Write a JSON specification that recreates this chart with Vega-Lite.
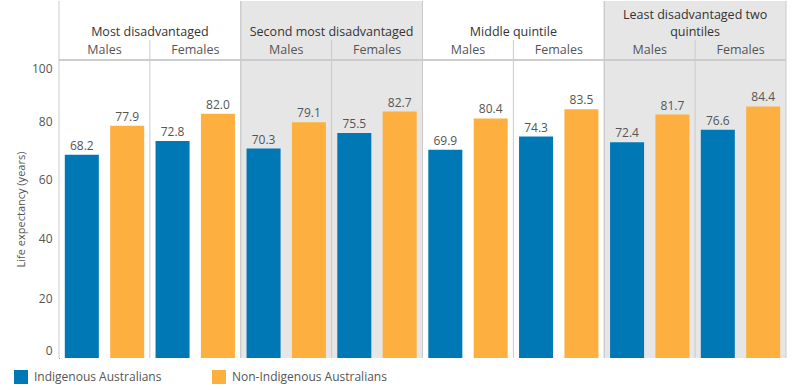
{
  "$schema": "https://vega.github.io/schema/vega-lite/v6.json",
  "padding": {"left": 14, "top": 0, "right": 13, "bottom": 0},
  "config": {"font": "Open Sans", "view": {"stroke": null}},
  "datasets": {
    "life": [
      {"quintile": "Most disadvantaged", "sex": "Males", "group": "Indigenous Australians", "value": 68.2},
      {"quintile": "Most disadvantaged", "sex": "Males", "group": "Non-Indigenous Australians", "value": 77.9},
      {"quintile": "Most disadvantaged", "sex": "Females", "group": "Indigenous Australians", "value": 72.8},
      {"quintile": "Most disadvantaged", "sex": "Females", "group": "Non-Indigenous Australians", "value": 82.0},
      {"quintile": "Second most disadvantaged", "sex": "Males", "group": "Indigenous Australians", "value": 70.3},
      {"quintile": "Second most disadvantaged", "sex": "Males", "group": "Non-Indigenous Australians", "value": 79.1},
      {"quintile": "Second most disadvantaged", "sex": "Females", "group": "Indigenous Australians", "value": 75.5},
      {"quintile": "Second most disadvantaged", "sex": "Females", "group": "Non-Indigenous Australians", "value": 82.7},
      {"quintile": "Middle quintile", "sex": "Males", "group": "Indigenous Australians", "value": 69.9},
      {"quintile": "Middle quintile", "sex": "Males", "group": "Non-Indigenous Australians", "value": 80.4},
      {"quintile": "Middle quintile", "sex": "Females", "group": "Indigenous Australians", "value": 74.3},
      {"quintile": "Middle quintile", "sex": "Females", "group": "Non-Indigenous Australians", "value": 83.5},
      {"quintile": "Least disadvantaged two\nquintiles", "sex": "Males", "group": "Indigenous Australians", "value": 72.4},
      {"quintile": "Least disadvantaged two\nquintiles", "sex": "Males", "group": "Non-Indigenous Australians", "value": 81.7},
      {"quintile": "Least disadvantaged two\nquintiles", "sex": "Females", "group": "Indigenous Australians", "value": 76.6},
      {"quintile": "Least disadvantaged two\nquintiles", "sex": "Females", "group": "Non-Indigenous Australians", "value": 84.4}
    ],
    "cells": [
      {"quintile": "Most disadvantaged", "sex": "Males"},
      {"quintile": "Most disadvantaged", "sex": "Females"},
      {"quintile": "Second most disadvantaged", "sex": "Males"},
      {"quintile": "Second most disadvantaged", "sex": "Females"},
      {"quintile": "Middle quintile", "sex": "Males"},
      {"quintile": "Middle quintile", "sex": "Females"},
      {"quintile": "Least disadvantaged two\nquintiles", "sex": "Males"},
      {"quintile": "Least disadvantaged two\nquintiles", "sex": "Females"}
    ],
    "quintiles": [
      {"quintile": "Most disadvantaged"},
      {"quintile": "Second most disadvantaged"},
      {"quintile": "Middle quintile"},
      {"quintile": "Least disadvantaged two\nquintiles"}
    ]
  },
  "spacing": 0,
  "bounds": "flush",
  "resolve": {"scale": {"x": "shared", "xOffset": "independent", "y": "independent"}},
  "vconcat": [
    {
      "width": 727,
      "height": 39,
      "data": {"name": "quintiles"},
      "transform": [{"calculate": "split(datum.quintile, '\\n')", "as": "lines"}, {"calculate": "peek(datum.lines)", "as": "lastLine"}, {"calculate": "datum.lines[0]", "as": "firstLine"}],
      "layer": [
        {
          "mark": {"type": "rect"},
          "encoding": {
            "x": {"field": "quintile", "type": "nominal", "sort": null, "scale": {"paddingInner": 0, "paddingOuter": 0}, "axis": null},
            "color": {"condition": {"test": "datum.quintile == 'Most disadvantaged' || datum.quintile == 'Middle quintile'", "value": "#ffffff"}, "value": "#e6e6e6"}
          }
        },
        {
          "mark": {"type": "rule", "color": "#cacaca", "strokeWidth": 1},
          "encoding": {"x": {"field": "quintile", "type": "nominal", "sort": null, "bandPosition": 0, "axis": null}}
        },
        {
          "mark": {"type": "rule", "color": "#cacaca", "strokeWidth": 1},
          "encoding": {"x": {"field": "quintile", "type": "nominal", "sort": null, "bandPosition": 1, "axis": null}}
        },
        {
          "mark": {"type": "text", "baseline": "middle", "dy": 11, "fontSize": 12.5, "color": "#333333"},
          "encoding": {
            "x": {"field": "quintile", "type": "nominal", "sort": null, "axis": null},
            "text": {"field": "lastLine"}
          }
        },
        {
          "transform": [{"filter": "length(datum.lines) > 1"}],
          "mark": {"type": "text", "baseline": "middle", "dy": -6, "fontSize": 12.5, "color": "#333333"},
          "encoding": {
            "x": {"field": "quintile", "type": "nominal", "sort": null, "axis": null},
            "text": {"field": "firstLine"}
          }
        }
      ]
    },
    {
      "width": 727,
      "height": 20,
      "layer": [
        {
          "data": {"name": "quintiles"},
          "mark": {"type": "rect"},
          "encoding": {
            "x": {"field": "quintile", "type": "nominal", "sort": null, "axis": null},
            "color": {"condition": {"test": "datum.quintile == 'Most disadvantaged' || datum.quintile == 'Middle quintile'", "value": "#ffffff"}, "value": "#e6e6e6"}
          }
        },
        {
          "data": {"name": "quintiles"},
          "mark": {"type": "rule", "color": "#cacaca", "strokeWidth": 1},
          "encoding": {"x": {"field": "quintile", "type": "nominal", "sort": null, "bandPosition": 0, "axis": null}}
        },
        {
          "data": {"name": "quintiles"},
          "mark": {"type": "rule", "color": "#cacaca", "strokeWidth": 1},
          "encoding": {"x": {"field": "quintile", "type": "nominal", "sort": null, "bandPosition": 1, "axis": null}}
        },
        {
          "data": {"name": "quintiles"},
          "mark": {"type": "rule", "color": "#cacaca", "strokeWidth": 1},
          "encoding": {"x": {"field": "quintile", "type": "nominal", "sort": null, "bandPosition": 0.5, "axis": null}}
        },
        {
          "data": {"name": "cells"},
          "transform": [{"filter": "datum.sex == 'Males'"}],
          "mark": {"type": "text", "baseline": "middle", "fontSize": 12.5, "color": "#555555"},
          "encoding": {
            "x": {"field": "quintile", "type": "nominal", "sort": null, "bandPosition": 0.25, "axis": null},
            "text": {"field": "sex"}
          }
        },
        {
          "data": {"name": "cells"},
          "transform": [{"filter": "datum.sex == 'Females'"}],
          "mark": {"type": "text", "baseline": "middle", "fontSize": 12.5, "color": "#555555"},
          "encoding": {
            "x": {"field": "quintile", "type": "nominal", "sort": null, "bandPosition": 0.75, "axis": null},
            "text": {"field": "sex"}
          }
        }
      ]
    },
    {
      "width": 727,
      "height": 298,
      "layer": [
        {
          "data": {"name": "quintiles"},
          "mark": {"type": "rect"},
          "encoding": {
            "x": {"field": "quintile", "type": "nominal", "sort": null, "axis": null},
            "color": {"condition": {"test": "datum.quintile == 'Most disadvantaged' || datum.quintile == 'Middle quintile'", "value": "#ffffff"}, "value": "#e6e6e6"}
          }
        },
        {
          "data": {"name": "quintiles"},
          "mark": {"type": "rule", "color": "#cacaca", "strokeWidth": 1},
          "encoding": {"x": {"field": "quintile", "type": "nominal", "sort": null, "bandPosition": 0, "axis": null}}
        },
        {
          "data": {"name": "quintiles"},
          "mark": {"type": "rule", "color": "#cacaca", "strokeWidth": 1},
          "encoding": {"x": {"field": "quintile", "type": "nominal", "sort": null, "bandPosition": 1, "axis": null}}
        },
        {
          "data": {"name": "quintiles"},
          "mark": {"type": "rule", "color": "#cacaca", "strokeWidth": 1},
          "encoding": {"x": {"field": "quintile", "type": "nominal", "sort": null, "bandPosition": 0.5, "axis": null}}
        },
        {
          "data": {"name": "quintiles"},
          "mark": {"type": "rule", "color": "#cacaca", "strokeWidth": 1},
          "encoding": {"y": {"datum": 100, "type": "quantitative"}}
        },
        {
          "data": {"name": "life"},
          "transform": [{"calculate": "datum.sex + ' ' + datum.group", "as": "bar"}],
          "mark": {"type": "bar"},
          "encoding": {
            "x": {"field": "quintile", "type": "nominal", "sort": null, "axis": {"labels": false, "ticks": false, "title": null, "domainColor": "#333333"}},
            "xOffset": {"field": "bar", "type": "nominal", "sort": ["Males Indigenous Australians", "Males Non-Indigenous Australians", "Females Indigenous Australians", "Females Non-Indigenous Australians"], "scale": {"paddingInner": 0.25, "paddingOuter": 0.128}},
            "y": {"field": "value", "type": "quantitative", "scale": {"domain": [0, 100], "nice": false}, "axis": {"values": [0, 20, 40, 60, 80, 100], "grid": false, "ticks": false, "domainColor": "#333333", "labelColor": "#555555", "labelFontSize": 12, "labelPadding": 7, "title": "Life expectancy (years)", "titleFontSize": 11, "titleFontWeight": "normal", "titleColor": "#555555", "titlePadding": 5, "labelBaseline": "middle", "labelOffset": {"condition": [{"test": "datum.value == 100", "value": 8}, {"test": "datum.value == 80", "value": 2}, {"test": "datum.value == 0", "value": -8}], "value": 0}}},
            "color": {"field": "group", "type": "nominal", "scale": {"domain": ["Indigenous Australians", "Non-Indigenous Australians"], "range": ["#0078b6", "#fdb040"]}, "legend": {"orient": "none", "legendX": -45, "legendY": 369, "direction": "horizontal", "title": null, "symbolType": "square", "symbolSize": 196, "symbolStrokeWidth": 0, "labelFontSize": 12, "labelColor": "#555555", "columnPadding": 50, "labelOffset": 6}}
          }
        },
        {
          "data": {"name": "life"},
          "transform": [{"calculate": "datum.sex + ' ' + datum.group", "as": "bar"}],
          "mark": {"type": "text", "baseline": "alphabetic", "dy": -5, "fontSize": 12, "color": "#555555"},
          "encoding": {
            "x": {"field": "quintile", "type": "nominal", "sort": null},
            "xOffset": {"field": "bar", "type": "nominal", "sort": ["Males Indigenous Australians", "Males Non-Indigenous Australians", "Females Indigenous Australians", "Females Non-Indigenous Australians"]},
            "y": {"field": "value", "type": "quantitative"},
            "text": {"field": "value", "format": ".1f"}
          }
        }
      ]
    }
  ]
}
